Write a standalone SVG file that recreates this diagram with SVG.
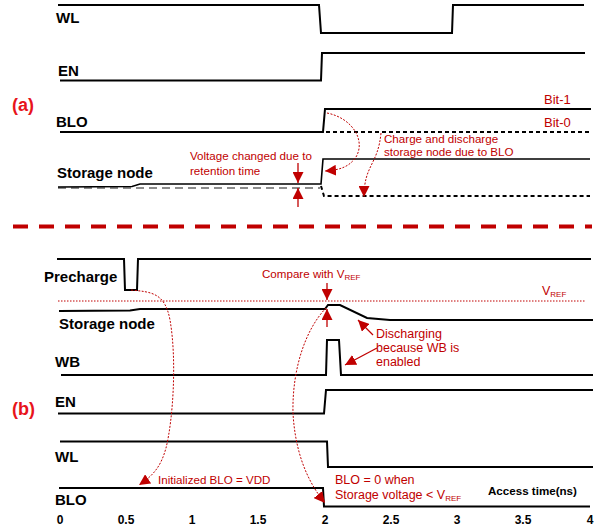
<svg xmlns="http://www.w3.org/2000/svg" width="602" height="529" viewBox="0 0 602 529">
<defs>
<style>
.sig{fill:none;stroke:#000;stroke-width:2;stroke-linejoin:miter}
.dash{fill:none;stroke:#000;stroke-width:2;stroke-dasharray:4 3}
.lbl{font-family:"Liberation Sans",Arial,sans-serif;font-weight:bold;font-size:15px;fill:#000}
.ann{font-family:"Liberation Sans",Arial,sans-serif;font-size:11.6px;fill:#c00000}
.tag{font-family:"Liberation Sans",Arial,sans-serif;font-weight:bold;font-size:18px;fill:#e8141b}
.ax{font-family:"Liberation Sans",Arial,sans-serif;font-weight:bold;font-size:12px;fill:#000}
.curve{fill:none;stroke:#c00000;stroke-width:1;stroke-dasharray:2 1.5}
.arr{fill:none;stroke:#c00000;stroke-width:1.3}
</style>
<marker id="ah" viewBox="0 0 10 10" refX="10" refY="5" markerWidth="11" markerHeight="11" markerUnits="userSpaceOnUse" orient="auto">
<path d="M0,0 L10,5 L0,10 z" fill="#c00000"/>
</marker>
</defs>

<g id="label-a"><text class="tag" x="12" y="111">(a)</text></g>
<g id="label-b"><text class="tag" x="12" y="415">(b)</text></g>

<g id="a-WL">
<path class="sig" d="M58,5 L319,5 L321,33 L452,33 L453,5 L584,5"/>
<text class="lbl" x="56" y="23">WL</text>
</g>
<g id="a-EN">
<path class="sig" d="M60,80.5 L321,80.5 L322,53 L585,53"/>
<text class="lbl" x="58" y="76">EN</text>
</g>
<g id="a-BLO">
<path class="sig" d="M60,132 L323,132 L325,109 L591,109"/>
<path class="dash" d="M326,132 L591,132"/>
<text class="lbl" x="56" y="127">BLO</text>
<text class="ann" style="font-size:13px" x="544" y="104">Bit-1</text>
<text class="ann" style="font-size:13px" x="544" y="127">Bit-0</text>
<text class="ann" x="384" y="143">Charge and discharge</text>
<text class="ann" x="384" y="156">storage node due to BLO</text>
</g>
<g id="a-storage">
<path d="M58,188 L320,188" fill="none" stroke="#8c8c8c" stroke-width="2" stroke-dasharray="8 5"/>
<path class="sig" style="stroke-width:1.6" d="M58,187 L132,186.5 L140,184 L321,184 L323,159 L590,159"/>
<path class="dash" d="M321,186 L324,196 L590,196"/>
<text class="lbl" x="57" y="178">Storage node</text>
<text class="ann" x="190" y="160">Voltage changed due to</text>
<text class="ann" x="190" y="175">retention time</text>
</g>

<g id="separator">
<path d="M13,226.5 L592,226.5" fill="none" stroke="#c00000" stroke-width="4" stroke-dasharray="15 11"/>
</g>

<g id="b-precharge">
<path class="sig" d="M57,259 L124,259 L125,290 L137,290 L138,259 L591,259"/>
<text class="lbl" x="44" y="282">Precharge</text>
</g>
<g id="b-vref">
<path d="M58,301 L586,301" fill="none" stroke="#c00000" stroke-width="1" stroke-dasharray="1.5 1.5"/>
<text class="ann" style="font-size:12.5px" x="542" y="295">V<tspan font-size="8" dy="2">REF</tspan></text>
</g>
<g id="b-storage">
<path class="sig" d="M59,311 L130,310.5 L140,309 L325,309 L328,305 L340,305 L367,318 L390,320 L593,320"/>
<text class="lbl" x="59" y="329">Storage node</text>
<text class="ann" x="262" y="278">Compare with V<tspan font-size="8" dy="2">REF</tspan></text>
<text class="ann" style="font-size:12.5px" x="376" y="338">Discharging</text>
<text class="ann" style="font-size:12.5px" x="376" y="352">because WB is</text>
<text class="ann" style="font-size:12.5px" x="376" y="366">enabled</text>
</g>
<g id="b-WB">
<path class="sig" d="M61,375 L326,375 L327,340 L339,340 L341,375 L593,375"/>
<text class="lbl" x="55" y="367">WB</text>
</g>
<g id="b-EN">
<path class="sig" d="M58,413.5 L324,413.5 L326,390 L593,390"/>
<text class="lbl" x="55" y="407">EN</text>
</g>
<g id="b-WL">
<path class="sig" d="M60,441.5 L327,441.5 L328,467 L593,467"/>
<text class="lbl" x="55" y="462">WL</text>
</g>
<g id="b-BLO">
<path class="sig" d="M59,488 L323,488 L324,506.5 L590,506.5"/>
<text class="lbl" x="55" y="505">BLO</text>
<text class="ann" x="158" y="484">Initialized BLO = VDD</text>
<text class="ann" style="font-size:12.5px" x="335" y="484">BLO = 0 when</text>
<text class="ann" style="font-size:12.5px" x="335" y="499">Storage voltage &lt; V<tspan font-size="8" dy="2">REF</tspan></text>
</g>

<g id="axis">
<text class="ax" x="60" y="524" text-anchor="middle">0</text>
<text class="ax" x="126" y="524" text-anchor="middle">0.5</text>
<text class="ax" x="192" y="524" text-anchor="middle">1</text>
<text class="ax" x="258" y="524" text-anchor="middle">1.5</text>
<text class="ax" x="325" y="524" text-anchor="middle">2</text>
<text class="ax" x="391" y="524" text-anchor="middle">2.5</text>
<text class="ax" x="457" y="524" text-anchor="middle">3</text>
<text class="ax" x="523" y="524" text-anchor="middle">3.5</text>
<text class="ax" x="590" y="524" text-anchor="middle">4</text>
<text class="ax" style="font-size:11.6px" x="488" y="495">Access time(ns)</text>
</g>

<g id="connectors">
<path class="curve" d="M327,113 C352,118 366,140 356,157 C349,167 340,170 325,171" marker-end="url(#ah)"/>
<path class="curve" d="M381,133 C378,165 364,165 364,197" marker-end="url(#ah)"/>
<path class="arr" d="M298,163 L298,183" marker-end="url(#ah)"/>
<path class="arr" d="M298,207 L298,188" marker-end="url(#ah)"/>
<path class="arr" d="M327,283 L327,300" marker-end="url(#ah)"/>
<path class="arr" d="M327,327 L327,309" marker-end="url(#ah)"/>
<path class="arr" d="M373,335 L358,320" marker-end="url(#ah)"/>
<path class="arr" d="M377,348 L345,365" marker-end="url(#ah)"/>
<path class="curve" d="M131,290 C152,292 165,293 170,320 C177,360 173,420 166,448 C161,466 154,475 139,485" marker-end="url(#ah)"/>
<path class="curve" d="M326,308 C305,330 292,370 293,413 C295,450 306,480 325,503" marker-end="url(#ah)"/>
</g>
</svg>
